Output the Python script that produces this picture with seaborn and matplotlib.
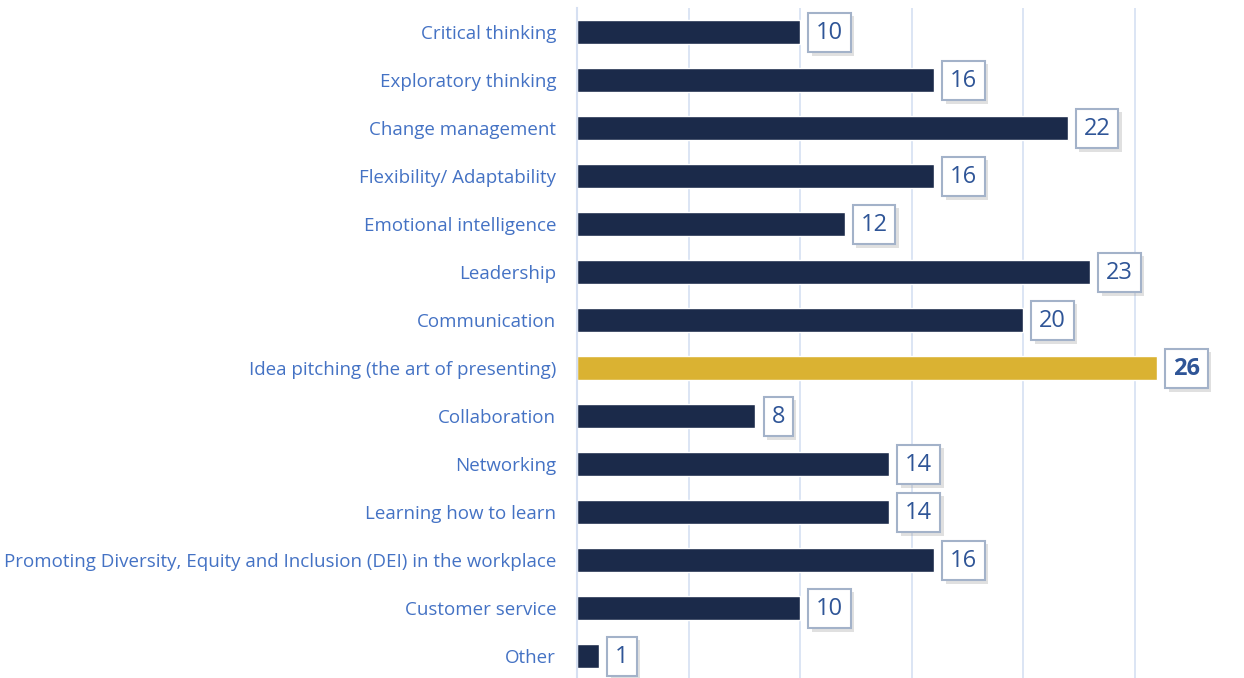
import matplotlib.pyplot as plt
import matplotlib.patheffects as pe
import seaborn as sns
import pandas as pd

# data
skills = [
    "Critical thinking",
    "Exploratory thinking",
    "Change management",
    "Flexibility/ Adaptability",
    "Emotional intelligence",
    "Leadership",
    "Communication",
    "Idea pitching (the art of presenting)",
    "Collaboration",
    "Networking",
    "Learning how to learn",
    "Promoting Diversity, Equity and Inclusion (DEI) in the workplace",
    "Customer service",
    "Other",
]
counts = [10, 16, 22, 16, 12, 23, 20, 26, 8, 14, 14, 16, 10, 1]
highlight = "Idea pitching (the art of presenting)"

navy = "#1B2A4A"
gold = "#DAB232"
label_blue = "#4472C4"
value_blue = "#2F5597"
grid_blue = "#D6E0F2"

df = pd.DataFrame({"skill": skills, "count": counts})

sns.set_style("white")
plt.rcParams["font.family"] = ["Open Sans", "DejaVu Sans"]

fig = plt.figure(figsize=(12.44, 6.78), dpi=100)
ax = fig.add_axes([577 / 1244, -2 / 678, 667 / 1244, 672 / 678])

palette = {s: (gold if s == highlight else navy) for s in skills}
sns.barplot(data=df, x="count", y="skill", hue="skill", palette=palette,
            order=skills, width=0.5, legend=False, ax=ax, saturation=1)

ax.set_xlim(0, 29.9)
ax.set_ylim(13.5, -0.5)
ax.set_xlabel("")
ax.set_ylabel("")
ax.set_xticks([0, 5, 10, 15, 20, 25])
ax.tick_params(axis="x", length=0, labelbottom=False)
ax.grid(axis="x", color=grid_blue, linewidth=1.2)
ax.set_axisbelow(True)
for side in ["top", "right", "bottom"]:
    ax.spines[side].set_visible(False)
ax.spines["left"].set_color(grid_blue)
ax.spines["left"].set_linewidth(1.5)

ax.tick_params(axis="y", length=0, pad=15, labelsize=13.5, labelcolor=label_blue)
ax.set_yticks([i + 0.5 for i in range(-1, 14)], minor=True)
ax.tick_params(axis="y", which="minor", length=6, width=1.5, color=grid_blue, direction="out")

for i, (s, v) in enumerate(zip(skills, counts)):
    bold = s == highlight
    t = ax.annotate(str(v), xy=(v, i), xytext=(11.5, -0.5), textcoords="offset points",
                    ha="left", va="center", fontsize=17,
                    fontweight="bold" if bold else "normal", color=value_blue,
                    bbox=dict(boxstyle="square,pad=0.33", fc="white", ec="#A3B2C9", lw=1.5))
    t.get_bbox_patch().set_path_effects([
        pe.SimplePatchShadow(offset=(2.5, -2.5), shadow_rgbFace="#9A9A9A", alpha=0.3),
        pe.Normal(),
    ])

fig.savefig("out.png", dpi=100)
plt.close(fig)
